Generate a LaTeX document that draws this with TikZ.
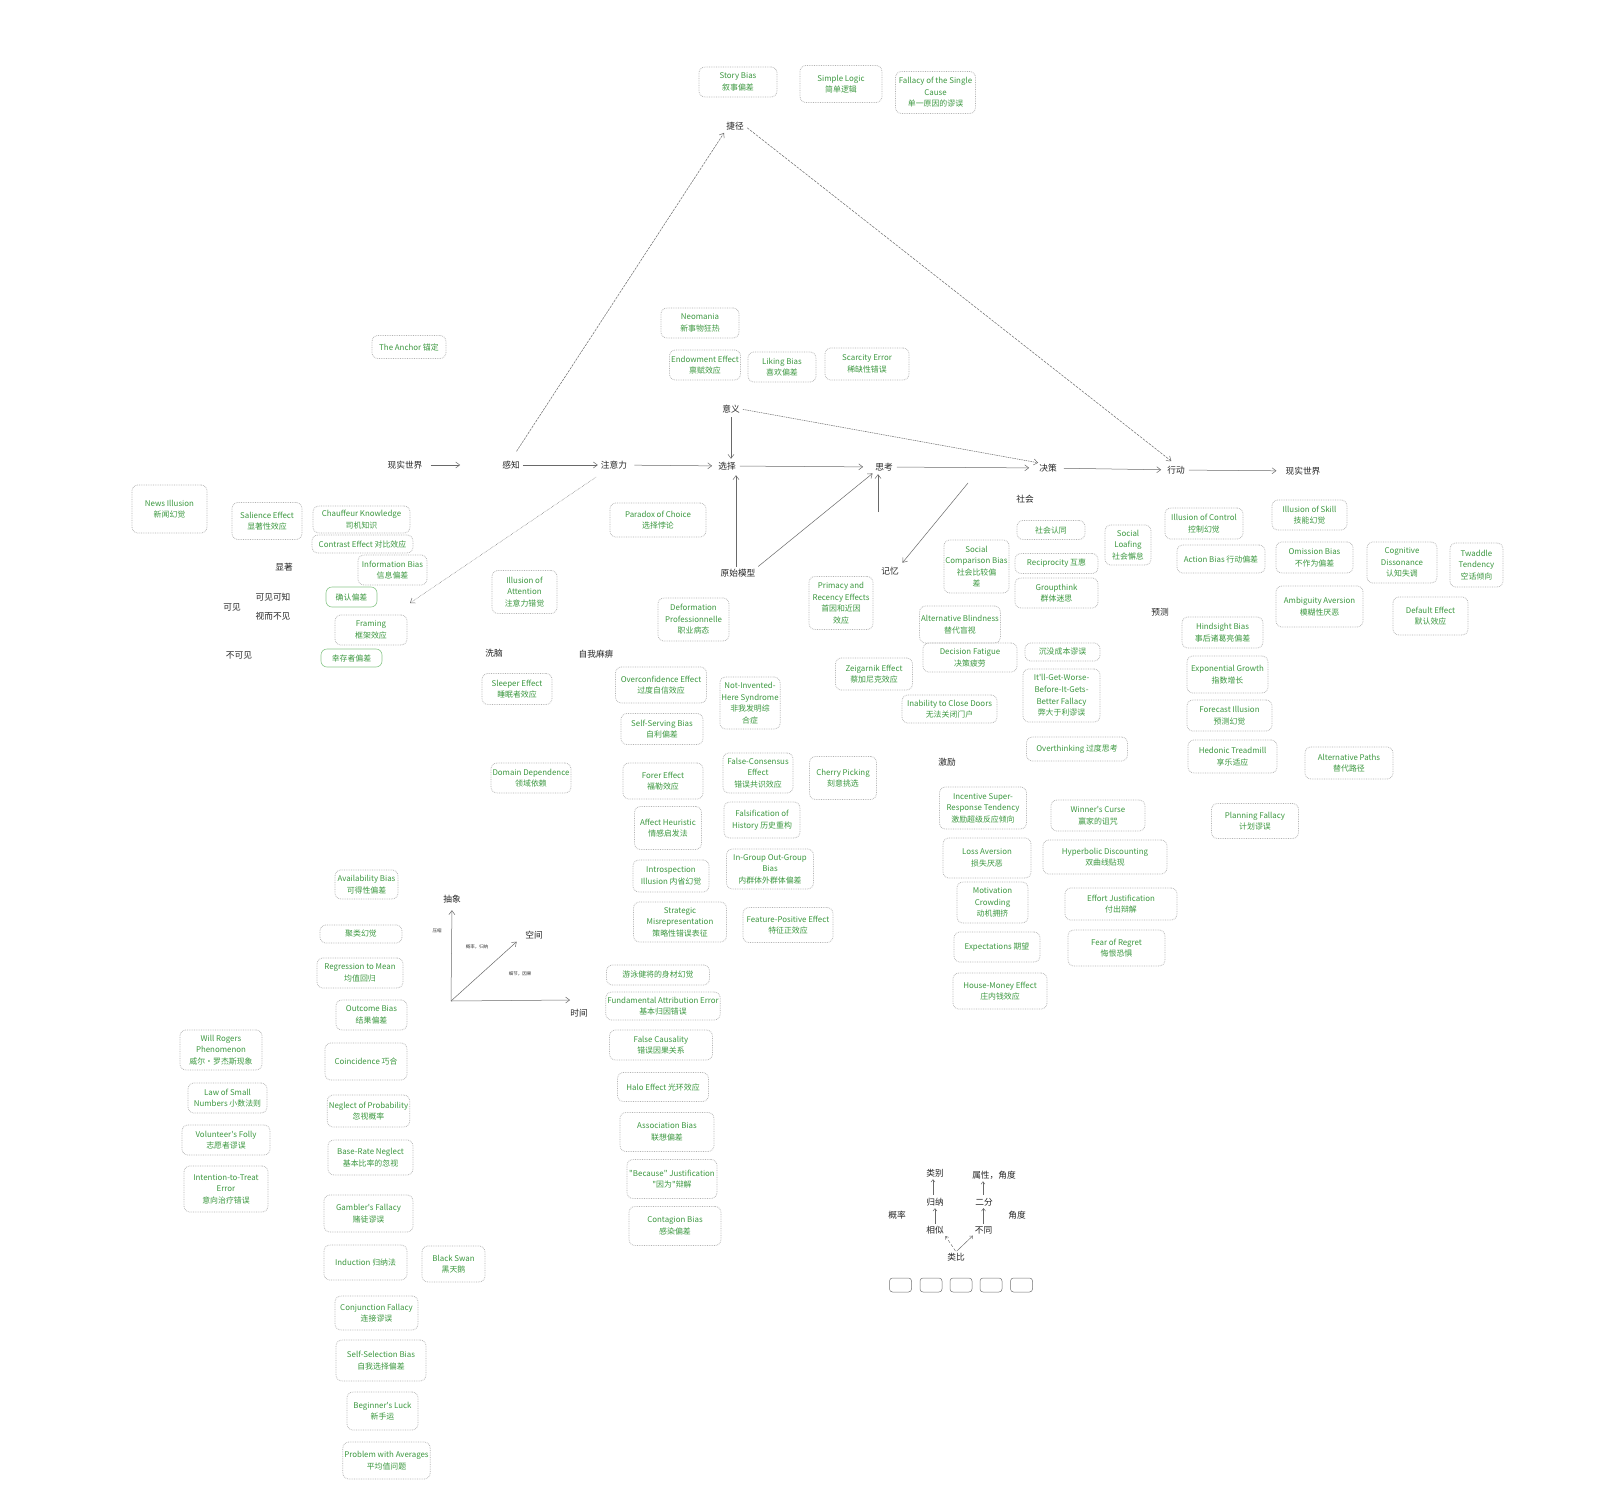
\documentclass[tikz,border=0pt]{standalone}
\usepackage{fontspec}
\newfontfamily\cjk{Noto Sans CJK SC}
\usetikzlibrary{arrows.meta}
\definecolor{tgreen}{RGB}{60,152,64}
\definecolor{boxgray}{RGB}{178,178,178}
\definecolor{arrgray}{RGB}{105,105,105}
\definecolor{lgreen}{RGB}{140,200,140}
\tikzset{
  bx/.style={draw=boxgray, densely dotted, line width=0.75pt, rounded corners=6pt, text=tgreen, align=center, inner sep=1.5pt, font=\cjk\fontsize{7.9}{11.6}\selectfont},
  sbx/.style={bx, solid, draw=lgreen, line width=0.6pt},
  lbl/.style={inner sep=1pt, text=black!85, font=\cjk\fontsize{8.7}{10}\selectfont},
  tinylbl/.style={inner sep=0.5pt, text=black!80, font=\cjk\fontsize{4.5}{5}\selectfont},
  arr/.style={draw=arrgray, line width=0.5pt, -{Straight Barb[length=4pt,width=6pt]}},
  rarr/.style={draw=arrgray, line width=0.5pt, {Straight Barb[length=4pt,width=6pt]}-},
  sarr/.style={draw=arrgray, line width=0.45pt, -{Straight Barb[length=2.5pt,width=4pt]}},
  ebox/.style={draw=black!55, line width=0.5pt, rounded corners=3pt, minimum width=22, minimum height=14, inner sep=0pt},
}
\newcommand\bxn[7][]{\node[bx,minimum width=#5,minimum height=#6,#1] (#2) at (#3,#4) {#7};}
\begin{document}
\begin{tikzpicture}[x=1pt,y=-1pt]
\fill[white] (0,0) rectangle (1604,1512);
\useasboundingbox (0,0) rectangle (1604,1512);

% ---------- main flow labels
\node[lbl] (short) at (735,126) {捷径};
\node[lbl] (meaning) at (731,409) {意义};
\node[lbl] (w1) at (405,465) {现实世界};
\node[lbl] (perc) at (511,465) {感知};
\node[lbl] (attn) at (614,465) {注意力};
\node[lbl] (choice) at (727,466) {选择};
\node[lbl] (think) at (884,467) {思考};
\node[lbl] (decis) at (1048,468) {决策};
\node[lbl] (act) at (1176,470) {行动};
\node[lbl] (w2) at (1303,471) {现实世界};
\node[lbl] (model) at (738,573) {原始模型};
\node[lbl] (memory) at (890,571) {记忆};
\node[lbl] (social) at (1025,499) {社会};
\node[lbl] (predict) at (1160,612) {预测};
\node[lbl] (incentive) at (947,762) {激励};
\node[lbl] (salient) at (284,567) {显著};
\node[lbl] (vk) at (273,597) {可见可知};
\node[lbl] (vis) at (232,607) {可见};
\node[lbl] (vnot) at (273,616) {视而不见};
\node[lbl] (invis) at (239,655) {不可见};
\node[lbl] (brain) at (494,653) {洗脑};
\node[lbl] (numb) at (596,654) {自我麻痹};

% ---------- main flow arrows
\draw[arr, shorten <=7pt, shorten >=41pt] (w1) -- (perc);
\draw[arr, shorten <=2pt, shorten >=2pt] (perc) -- (attn);
\draw[arr, shorten <=6pt, shorten >=5pt] (attn) -- (choice);
\draw[arr, shorten <=3pt, shorten >=11pt] (choice) -- (think);
\draw[arr, shorten <=3pt, shorten >=9pt] (think) -- (decis);
\draw[arr, shorten <=6pt, shorten >=5pt] (decis) -- (act);
\draw[arr, shorten <=3pt, shorten >=8pt] (act) -- (w2);
\draw[arr, shorten <=3pt, shorten >=2pt] (meaning) -- (meaning |- choice.north);
\draw[arr, dash pattern=on 1.5pt off 0.8pt, shorten <=2pt] (meaning.east) -- (decis.north west);
\draw[arr, dash pattern=on 2.5pt off 1pt, shorten <=10pt, shorten >=2pt] (perc.north) -- (short.south west);
\draw[arr, dash pattern=on 2.5pt off 1.2pt, shorten <=3pt, shorten >=6pt] (short.east) -- (act.north);
\draw[arr, shorten <=1pt, shorten >=4pt] ([xshift=-2pt]model.north) -- ([xshift=-2pt]model.north |- choice.south);
\draw[arr, shorten <=2pt, shorten >=2pt] (model.north east) -- (think.south west);
\coordinate (mup) at (878,512);
\draw[arr, shorten >=2pt] (mup) -- (mup |- think.south);
\coordinate (mstart) at (968,483);
\draw[arr, shorten >=4pt] (mstart) -- (memory.north east);
\coordinate (cfend) at (410,603);
\draw[rarr, densely dotted, shorten >=12pt] (cfend) -- (attn);

% ---------- top
\bxn{story}{738}{82}{78}{30}{Story Bias\\叙事偏差}
\bxn{logic}{841}{84}{82}{37}{Simple Logic\\简单逻辑}
\bxn{single}{935.5}{92.5}{80}{42}{Fallacy of the Single\\Cause\\单一原因的谬误}
\bxn{neo}{700}{323}{78}{30}{Neomania\\新事物狂热}
\bxn{anchor}{409}{347}{74}{23}{The Anchor 锚定}
\bxn{endow}{705}{365}{71}{30}{Endowment Effect\\禀赋效应}
\bxn{liking}{782}{367}{68}{30}{Liking Bias\\喜欢偏差}
\bxn{scarc}{867}{364}{84}{32}{Scarcity Error\\稀缺性错误}

% ---------- left
\bxn{news}{169.5}{509}{75}{48}{News Illusion\\新闻幻觉}
\bxn{salience}{267}{521}{70}{37}{Salience Effect\\显著性效应}
\bxn{chauff}{361.5}{519.5}{97}{27}{Chauffeur Knowledge\\司机知识}
\bxn{contrast}{362.5}{544}{101}{18}{Contrast Effect 对比效应}
\bxn{info}{392.5}{570}{69}{30}{Information Bias\\信息偏差}
\bxn[sbx]{confirm}{351.5}{597}{51}{20}{确认偏差}
\bxn{framing}{371}{630}{72}{30}{Framing\\框架效应}
\bxn[sbx]{surv}{351.5}{658}{61}{18}{幸存者偏差}

% ---------- middle
\bxn{paradox}{658}{520}{96}{34}{Paradox of Choice\\选择悖论}
\bxn{illatt}{524.5}{592}{65}{43}{Illusion of\\Attention\\注意力错觉}
\bxn{deform}{693.5}{619.5}{71}{43}{Deformation\\Professionnelle\\职业病态}
\bxn{primacy}{841}{603}{64}{53}{Primacy and\\Recency Effects\\首因和近因\\效应}
\bxn{zeig}{874}{674}{77}{32}{Zeigarnik Effect\\蔡加尼克效应}
\bxn{sleeper}{517}{689}{70}{31}{Sleeper Effect\\睡眠者效应}
\bxn{overconf}{661}{685}{91}{36}{Overconfidence Effect\\过度自信效应}
\bxn{nih}{750}{703}{56}{52}{Not-Invented-\\Here Syndrome\\非我发明综\\合症}
\bxn{selfserv}{662}{729}{82}{31}{Self-Serving Bias\\自利偏差}
\bxn{domain}{531}{778}{78}{30}{Domain Dependence\\领域依赖}
\bxn{forer}{663}{781}{80}{36}{Forer Effect\\福勒效应}
\bxn{falsecons}{758}{773}{70}{40}{False-Consensus\\Effect\\错误共识效应}
\bxn{cherry}{843}{778}{67}{43}{Cherry Picking\\刻意挑选}
\bxn{affect}{668}{828}{67}{43}{Affect Heuristic\\情感启发法}
\bxn{falsif}{762}{820}{76}{36}{Falsification of\\History 历史重构}
\bxn{intro}{671}{876}{76}{32}{Introspection\\Illusion 内省幻觉}
\bxn{ingroup}{770}{869}{87}{40}{In-Group Out-Group\\Bias\\内群体外群体偏差}
\bxn{strat}{680}{922}{93}{40}{Strategic\\Misrepresentation\\策略性错误表征}
\bxn{featpos}{788}{925}{90}{35}{Feature-Positive Effect\\特征正效应}
\bxn{swim}{658}{975}{103}{20}{游泳健将的身材幻觉}
\bxn{fae}{663}{1006}{110}{28}{Fundamental Attribution Error\\基本归因错误}
\bxn{falsecaus}{661}{1045}{103}{30}{False Causality\\错误因果关系}
\bxn{halo}{663}{1087}{91}{29}{Halo Effect 光环效应}
\bxn{assoc}{667}{1132}{94}{39}{Association Bias\\联想偏差}
\bxn{because}{672}{1179}{90}{39}{"Because" Justification\\"因为"辩解}
\bxn{contag}{675}{1226}{92}{39}{Contagion Bias\\感染偏差}

% ---------- social / decision cluster
\bxn{socid}{1051}{530}{68}{19}{社会认同}
\bxn{loaf}{1128}{545}{46}{40}{Social\\Loafing\\社会懈怠}
\bxn{soccomp}{976.5}{566.5}{63}{53}{Social\\Comparison Bias\\社会比较偏\\差}
\bxn{recip}{1056.5}{563.5}{83}{20}{Reciprocity 互惠}
\bxn{group}{1056.5}{593}{83}{30}{Groupthink\\群体迷思}
\bxn{altblind}{960}{624.5}{80}{37}{Alternative Blindness\\替代盲视}
\bxn{decfat}{970}{657.5}{94}{29}{Decision Fatigue\\决策疲劳}
\bxn{sunk}{1062.5}{652}{75}{18}{沉没成本谬误}
\bxn{worse}{1061.5}{695.5}{77}{53}{It'll-Get-Worse-\\Before-It-Gets-\\Better Fallacy\\弊大于利谬误}
\bxn{doors}{949.5}{709}{95}{28}{Inability to Close Doors\\无法关闭门户}
\bxn{overth}{1077}{749}{101}{24}{Overthinking 过度思考}
\bxn{incent}{983}{808}{87}{42}{Incentive Super-\\Response Tendency\\激励超级反应倾向}
\bxn{winner}{1098}{815.5}{94}{31}{Winner's Curse\\赢家的诅咒}
\bxn{loss}{987}{858}{88}{40}{Loss Aversion\\损失厌恶}
\bxn{hyper}{1105}{857}{124}{34}{Hyperbolic Discounting\\双曲线贴现}
\bxn{motiv}{992.5}{902.5}{71}{41}{Motivation\\Crowding\\动机拥挤}
\bxn{effort}{1121}{904}{112}{32}{Effort Justification\\付出辩解}
\bxn{expect}{997}{947}{86}{30}{Expectations 期望}
\bxn{regret}{1116.5}{948}{97}{36}{Fear of Regret\\悔恨恐惧}
\bxn{house}{1000}{991}{94}{36}{House-Money Effect\\庄内钱效应}

% ---------- right cluster
\bxn{ctrl}{1204}{523.5}{78}{31}{Illusion of Control\\控制幻觉}
\bxn{skill}{1309.5}{515}{75}{30}{Illusion of Skill\\技能幻觉}
\bxn{action}{1221}{559}{88}{28}{Action Bias 行动偏差}
\bxn{omis}{1314.5}{557.5}{77}{31}{Omission Bias\\不作为偏差}
\bxn{cogdis}{1402}{562.5}{70}{41}{Cognitive\\Dissonance\\认知失调}
\bxn{twaddle}{1476.5}{565}{53}{44}{Twaddle\\Tendency\\空话倾向}
\bxn{ambig}{1319.5}{606.5}{87}{41}{Ambiguity Aversion\\模糊性厌恶}
\bxn{default}{1430.5}{616}{75}{38}{Default Effect\\默认效应}
\bxn{hind}{1222.5}{632.5}{81}{31}{Hindsight Bias\\事后诸葛亮偏差}
\bxn{expo}{1227.5}{674.5}{81}{37}{Exponential Growth\\指数增长}
\bxn{forecast}{1229.5}{715.5}{85}{31}{Forecast Illusion\\预测幻觉}
\bxn{hedonic}{1232.5}{756.5}{89}{33}{Hedonic Treadmill\\享乐适应}
\bxn{altpath}{1349}{763}{88}{32}{Alternative Paths\\替代路径}
\bxn{plan}{1255}{821}{87}{35}{Planning Fallacy\\计划谬误}

% ---------- bottom left
\bxn{avail}{366.5}{884.5}{63}{29}{Availability Bias\\可得性偏差}
\bxn{cluster}{361}{934}{82}{18}{聚类幻觉}
\bxn{regress}{360}{973}{86}{30}{Regression to Mean\\均值回归}
\bxn{outcome}{371.5}{1015}{71}{30}{Outcome Bias\\结果偏差}
\bxn{coinc}{366}{1061.5}{82}{37}{Coincidence 巧合}
\bxn{neglect}{368.5}{1111}{81}{32}{Neglect of Probability\\忽视概率}
\bxn{baserate}{370.5}{1157.5}{85}{35}{Base-Rate Neglect\\基本比率的忽视}
\bxn{rogers}{221}{1050}{82}{40}{Will Rogers\\Phenomenon\\威尔·罗杰斯现象}
\bxn{smalln}{227.5}{1098}{79}{30}{Law of Small\\Numbers 小数法则}
\bxn{volunt}{226}{1140}{88}{30}{Volunteer's Folly\\志愿者谬误}
\bxn{itt}{226}{1189}{84}{46}{Intention-to-Treat\\Error\\意向治疗错误}
\bxn{gambler}{368.5}{1213.5}{89}{37}{Gambler's Fallacy\\赌徒谬误}
\bxn{induct}{365.5}{1262.5}{83}{35}{Induction 归纳法}
\bxn{swan}{453.5}{1264}{63}{36}{Black Swan\\黑天鹅}
\bxn{conj}{376.5}{1313}{83}{34}{Conjunction Fallacy\\连接谬误}
\bxn{selfsel}{381}{1360.5}{90}{41}{Self-Selection Bias\\自我选择偏差}
\bxn{beginner}{382.5}{1411}{71}{38}{Beginner's Luck\\新手运}
\bxn{averages}{386.5}{1460.5}{87}{37}{Problem with Averages\\平均值问题}

% ---------- axis chart
\node[lbl] (abs) at (452,899) {抽象};
\node[lbl] (spc) at (534,935) {空间};
\node[lbl] (tim) at (579,1013) {时间};
\node[tinylbl] (comp) at (437,931) {压缩};
\node[tinylbl] (probind) at (477,947) {概率，归纳};
\node[tinylbl] (detail) at (520,974) {细节，因果};
\coordinate (org) at (451,1001);
\coordinate (xend) at (570,1000);
\draw[arr, shorten >=6pt] (org) -- (abs.south);
\draw[arr] (org) -- (xend);
\draw[arr, shorten >=10pt] (org) -- (spc.west);

% ---------- bottom right diagram
\node[lbl] (cat) at (935,1173) {类别};
\node[lbl] (attr) at (994,1175) {属性，角度};
\node[lbl] (ind) at (935,1202) {归纳};
\node[lbl] (dich) at (984,1202) {二分};
\node[lbl] (prob) at (897,1215) {概率};
\node[lbl] (angle) at (1017,1215) {角度};
\node[lbl] (sim) at (935,1230) {相似};
\node[lbl] (diff) at (983.5,1230) {不同};
\node[lbl] (anal) at (956,1257) {类比};
\draw[sarr, shorten <=2pt, shorten >=1pt] ([xshift=-2pt]ind.north) -- ([xshift=-2pt]ind.north |- cat.south);
\draw[sarr, shorten <=1pt, shorten >=1pt] (sim.north) -- (ind.south);
\draw[sarr, shorten <=1pt, shorten >=1pt] (diff.north) -- (diff.north |- dich.south);
\draw[sarr, shorten <=2pt, shorten >=1pt] ([xshift=-1pt]dich.north) -- ([xshift=-1pt]dich.north |- attr.south);
\draw[sarr, densely dashed, shorten <=1pt, shorten >=1pt] (anal.north) -- (sim.south east);
\draw[sarr, shorten <=1pt, shorten >=1pt] (anal.north) -- (diff.south west);
\node[ebox] (e1) at (900.5,1285) {};
\node[ebox] (e2) at (931,1285) {};
\node[ebox] (e3) at (961,1285) {};
\node[ebox] (e4) at (991,1285) {};
\node[ebox] (e5) at (1021.5,1285) {};
\end{tikzpicture}
\end{document}
